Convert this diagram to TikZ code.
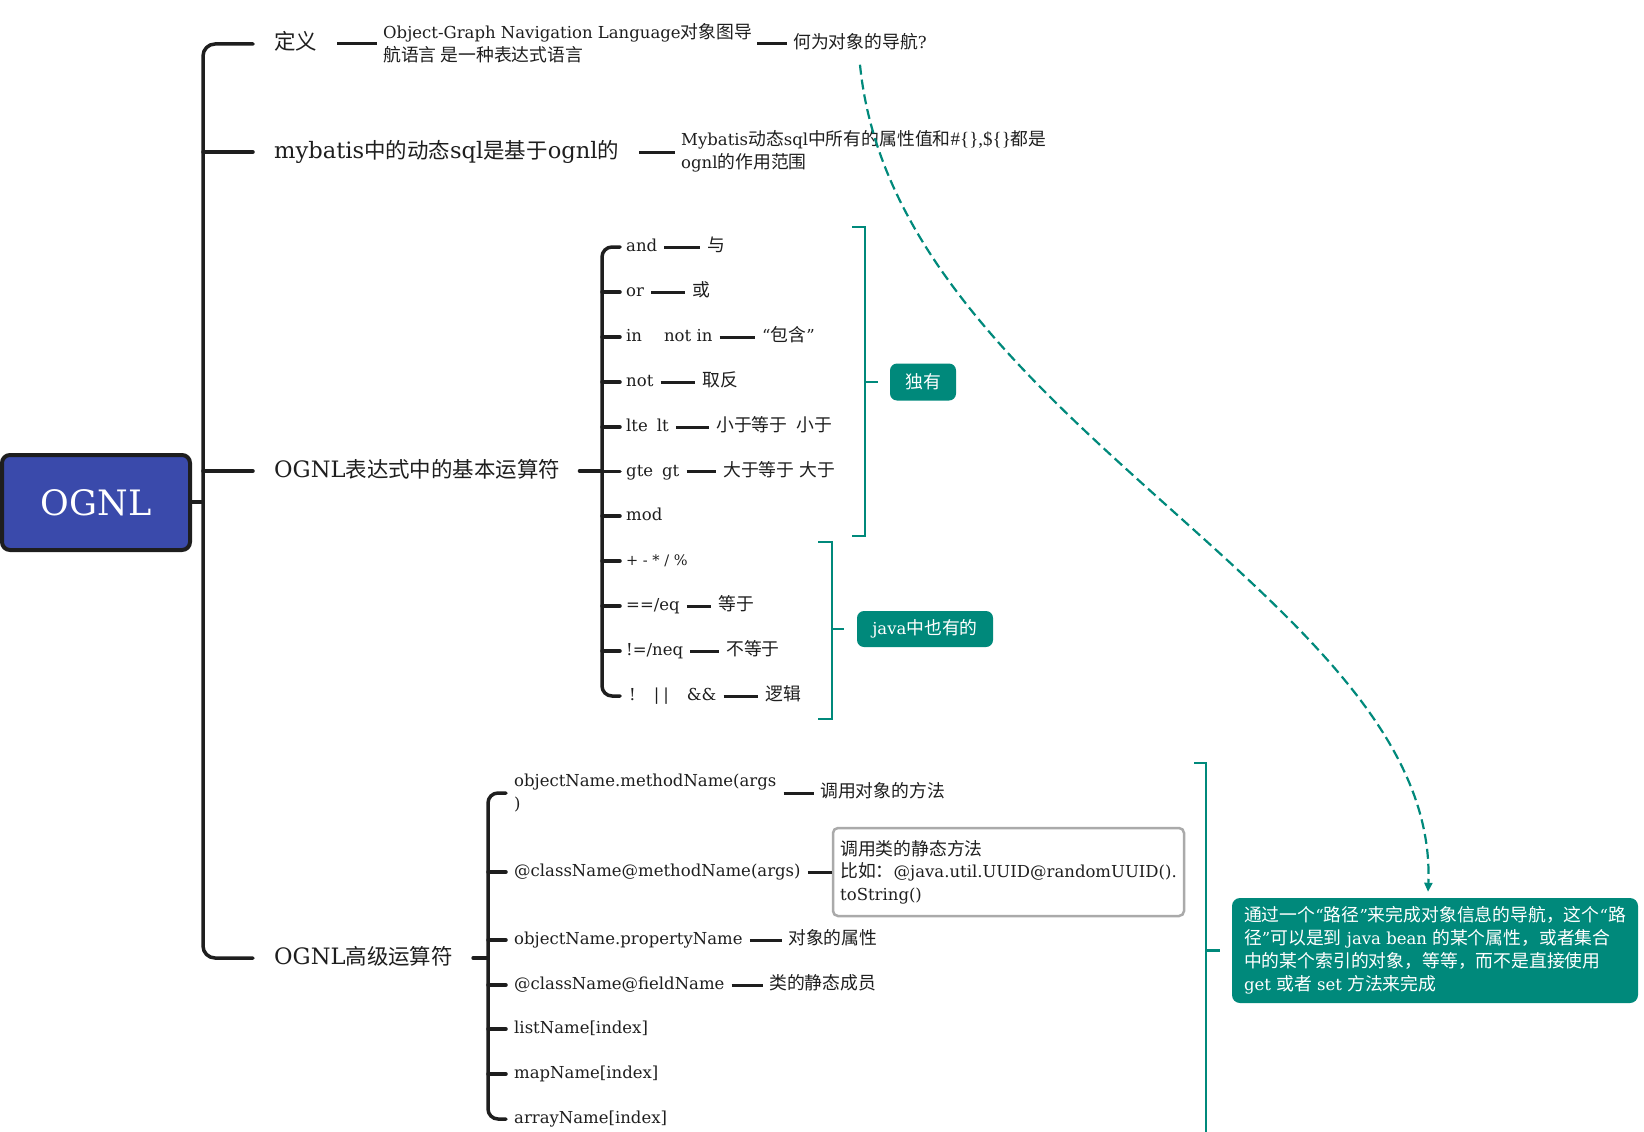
\documentclass[tikz,border=0pt]{standalone}
\usepackage{fontspec}
\setmainfont{DejaVu Serif}
\newfontfamily\zhA[Scale=0.95]{Noto Sans CJK SC}
\newfontfamily\zhB[Scale=1.08]{Noto Sans CJK SC}
\newfontfamily\narrowserif{Liberation Serif}
\usetikzlibrary{arrows.meta,calc}
\definecolor{ink}{HTML}{1E1E1E}
\definecolor{tealc}{HTML}{00897B}
\definecolor{rootc}{HTML}{3A4AAB}
\definecolor{boxgray}{HTML}{AAAAAA}
\newcommand\zhcur{\zhB}
\newcommand\zh[1]{{\zhcur #1}}
\tikzset{
  lvA/.style={anchor=west, inner sep=0pt, text=ink, text height=17pt, text depth=5pt,
    font=\fontsize{22.6}{27}\selectfont\let\zhcur\zhA},
  lvB/.style={anchor=west, inner sep=0pt, text=ink, text height=13pt, text depth=4pt,
    font=\fontsize{16.5}{23}\selectfont\let\zhcur\zhB},
  lvBm/.style={anchor=west, inner sep=0pt, text=ink, align=left,
    font=\fontsize{16.5}{23}\selectfont\let\zhcur\zhB},
  br/.style={draw=ink, line width=3.5pt, line cap=round},
  link/.style={draw=ink, line width=3pt},
  tline/.style={draw=tealc, line width=2.5pt},
  tagbox/.style={fill=tealc, text=white, rounded corners=7pt, inner sep=0pt,
    font=\fontsize{16.5}{23}\selectfont\let\zhcur\zhB},
}
\begin{document}
\begin{tikzpicture}[x=1pt,y=-1pt]
\useasboundingbox (0,0) rectangle (1644,1132);
% trunk x positions
\coordinate (tx) at (203,0);
\coordinate (sx3) at (602,0);
\coordinate (sx4) at (488,0);

% level 1
\node[lvA] (d1) at (274,44) {\zh{定义}};
\node[lvA] (d2) at (274,152) {mybatis\zh{中的动态}sql\zh{是基于}ognl\zh{的}};
\node[lvA] (d3) at (274,471) {OGNL\zh{表达式中的基本运算符}};
\node[lvA] (d4) at (274,958) {OGNL\zh{高级运算符}};

% root
\draw[br] (96,502) -- (tx |- 0,502);
\node[draw=ink, line width=4pt, fill=rootc, rounded corners=8pt, minimum width=188pt,
  minimum height=95pt, text=white, font=\fontsize{35}{40}\selectfont] (root) at (96,502.5) {OGNL};

\draw[br, rounded corners=12pt] ([xshift=-21pt]d1.west) -| (tx |- d4.west) -- ([xshift=-21pt]d4.west);
\draw[br] (tx |- d2.west) -- ([xshift=-21pt]d2.west);
\draw[br] (tx |- d3.west) -- ([xshift=-21pt]d3.west);

% definition branch
\node[lvBm] (e1) at (383,43.5) {Object-Graph Navigation Language\zh{对象图导}\\\zh{航语言 是一种表达式语言}};
\draw[link] ([xshift=20pt]d1.east) -- ($(d1.east -| e1.west)+(-6pt,0)$);
\node[lvB] (q) at (793,44) {\zh{何为对象的导航}?};
\draw[link] ($(q.west -| e1.east)+(5pt,0)$) -- ([xshift=-6pt]q.west);

% mybatis branch
\node[lvBm] (e2) at (681,151.5) {Mybatis\zh{动态}sql\zh{中所有的属性值和}{\narrowserif\fontsize{19}{23}\selectfont\#\{\},\$\{\}}\zh{都是}\\ognl\zh{的作用范围}};
\draw[link] ([xshift=20pt]d2.east) -- ($(d2.east -| e2.west)+(-6pt,0)$);

% basic operators
\node[lvB] (c1) at (626,247) {and};
\node[lvB] (c2) at (626,292) {or};
\node[lvB] (c3) at (626,337) {in\hspace{22pt}not in};
\node[lvB] (c4) at (626,382) {not};
\node[lvB] (c5) at (626,427) {lte\hspace{9pt}lt};
\node[lvB] (c6) at (626,471.5) {gte\hspace{9pt}gt};
\node[lvB] (c7) at (626,516) {mod};
\node[lvB] (c8) at (626,561) {\fontsize{14.5}{16}\selectfont + - * / \%};
\node[lvB] (c9) at (626,606) {==/eq};
\node[lvB] (c10) at (626,651) {!=/neq};
\node[lvB] (c11) at (629,696) {!\hspace{18pt}|\hspace{4pt}|\hspace{18pt}\&\&};

\node[lvB] (r1) at (707,247) {\zh{与}};
\node[lvB] (r2) at (692,292) {\zh{或}};
\node[lvB] (r3) at (762,337) {“\zh{包含}”};
\node[lvB] (r4) at (702,382) {\zh{取反}};
\node[lvB] (r5) at (716,427) {\zh{小于等于\hspace{9pt}小于}};
\node[lvB] (r6) at (723,471.5) {\zh{大于等于\hspace{5pt}大于}};
\node[lvB] (r9) at (718,606) {\zh{等于}};
\node[lvB] (r10) at (726,651) {\zh{不等于}};
\node[lvB] (r11) at (765,696) {\zh{逻辑}};

\foreach \a/\b in {c1/r1,c2/r2,c3/r3,c4/r4,c5/r5,c6/r6,c9/r9,c10/r10,c11/r11}
  \draw[link] ([xshift=7pt]\a.east) -- ([xshift=-7pt]\b.west);

\draw[br] ([xshift=19pt]d3.east) -- (sx3 |- d3.east);
\draw[br, rounded corners=10pt] ([xshift=-6pt]c1.west) -| (sx3 |- c11.west) -- ([xshift=-9pt]c11.west);
\foreach \n in {c2,c3,c4,c5,c6,c7,c8,c9,c10}
  \draw[br] (sx3 |- \n.west) -- ([xshift=-6pt]\n.west);

% teal brackets
\node[tagbox, minimum width=66pt, minimum height=37pt] (t1) at (923,382) {\zh{独有}};
\node[tagbox, minimum width=136pt, minimum height=36pt] (t2) at (925,629) {java\zh{中也有的}};
\draw[tline] (852,227) -- (865,227) -- (865,536) -- (852,536);
\draw[tline] (865,382) -- ([xshift=-12pt]t1.west);
\draw[tline] (818,542) -- (832,542) -- (832,719) -- (818,719);
\draw[tline] (832,629) -- ([xshift=-13pt]t2.west);

% advanced operators
\node[lvBm] (m1) at (514,793) {objectName.methodName(args\\)};
\node[lvB] (m2) at (514,872) {@className@methodName(args)};
\node[lvB] (m3) at (514,940) {objectName.propertyName};
\node[lvB] (m4) at (514,985) {@className@fieldName};
\node[lvB] (m5) at (514,1029) {listName[index]};
\node[lvB] (m6) at (514,1074) {mapName[index]};
\node[lvB] (m7) at (514,1119) {arrayName[index]};

\node[lvB] (n1) at (820,793) {\zh{调用对象的方法}};
\node[draw=boxgray, line width=2.5pt, rounded corners=5pt, minimum width=351pt, minimum height=88pt,
  inner sep=0pt, align=left, text=ink, font=\fontsize{16.5}{22.5}\selectfont\let\zhcur\zhB]
  (n2) at (1008.5,872) {\zh{调用类的静态方法}\\\zh{比如：}@java.util.UUID@randomUUID().\\toString()};
\node[lvB] (n3) at (788,940) {\zh{对象的属性}};
\node[lvB] (n4) at (769,985) {\zh{类的静态成员}};

\draw[link] ($(m1.east)+(7pt,0)$) -- ($(m1.east -| n1.west)+(-6pt,0)$);
\draw[link] ([xshift=7pt]m2.east) -- (m2.east -| n2.west);
\draw[link] ([xshift=7pt]m3.east) -- ([xshift=-6pt]n3.west);
\draw[link] ([xshift=7pt]m4.east) -- ([xshift=-6pt]n4.west);

\draw[br] ([xshift=20pt]d4.east) -- (sx4 |- d4.east);
\draw[br, rounded corners=10pt] ([xshift=-8pt]m1.west) -| (sx4 |- m7.west) -- ([xshift=-8pt]m7.west);
\foreach \n in {m2,m3,m4,m5,m6}
  \draw[br] (sx4 |- \n.west) -- ([xshift=-8pt]\n.west);

% navigation note
\node[tagbox, rounded corners=8pt, minimum width=406pt, minimum height=105pt, align=left] (t3) at (1435,950.5)
  {\zh{通过一个}“\zh{路径}”\zh{来完成对象信息的导航，这个}“\zh{路}\\\zh{径}”\zh{可以是到} java bean \zh{的某个属性，或者集合}\\\zh{中的某个索引的对象，等等，而不是直接使用}\\get \zh{或者} set \zh{方法来完成}};
\draw[tline] (1194,763) -- (1206,763) -- (1206,1140);
\draw[tline] (1206,950.5) -- ([xshift=-12pt]t3.west);

% dashed arrow
\draw[tealc, line width=2.2pt, dash pattern=on 10pt off 5pt, -{Triangle[length=9pt,width=8pt]}]
  ([yshift=-12pt]q.south) .. controls (895,420) and (1440,600) .. ([xshift=-7pt,yshift=6pt]t3.north);
\end{tikzpicture}
\end{document}
